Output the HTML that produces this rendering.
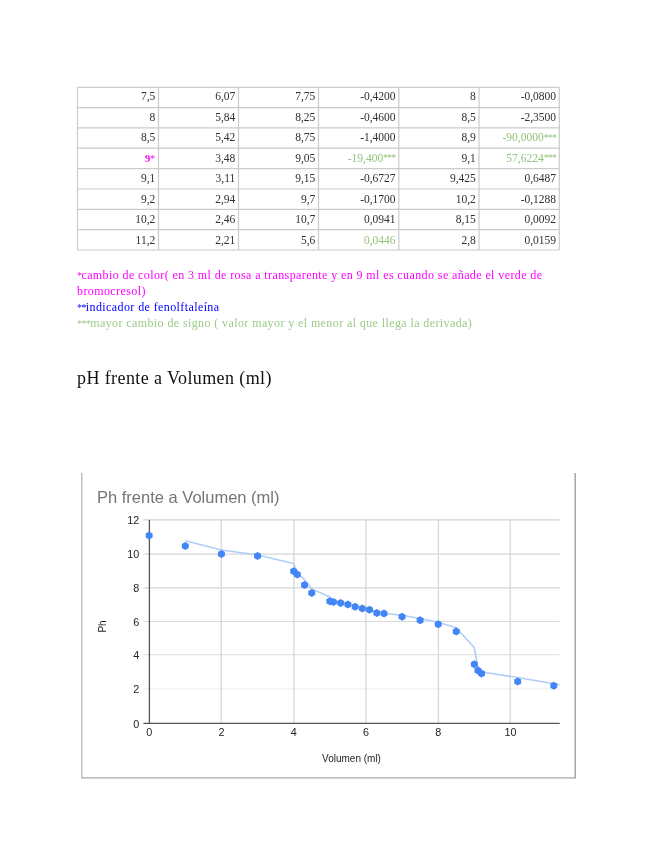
<!DOCTYPE html>
<html><head><meta charset="utf-8"><style>
html,body{margin:0;padding:0;background:#fff;width:655px;height:848px;overflow:hidden;position:relative}
.c{position:absolute;font-family:"Liberation Serif",serif;font-size:11.5px;line-height:14px;white-space:nowrap}
.ast{font-size:9.5px;letter-spacing:-0.6px;position:relative;top:-0.5px}
.na{font-size:10px;letter-spacing:-0.6px}
.n{position:absolute;left:77px;font-family:"Liberation Serif",serif;font-size:12px;letter-spacing:0.4px;line-height:16px;white-space:nowrap}
.h{position:absolute;left:77px;font-family:"Liberation Serif",serif;font-size:18px;letter-spacing:0.4px;white-space:nowrap;color:#111}
.tl{font-family:"Liberation Sans",sans-serif;font-size:10.8px;fill:#1e1e1e}
.al{font-family:"Liberation Sans",sans-serif;font-size:10px;fill:#1e1e1e}
.tt{font-family:"Liberation Sans",sans-serif;font-size:16.5px;fill:#757575}
</style></head><body><div style="position:absolute;left:0;top:0;width:655px;height:848px;will-change:transform">
<svg width="655" height="848" style="position:absolute;left:0;top:0"><line x1="77.5" y1="87.4" x2="77.5" y2="250.0" stroke="#cbcbcb" stroke-width="1.2"/><line x1="158.5" y1="87.4" x2="158.5" y2="250.0" stroke="#cbcbcb" stroke-width="1.2"/><line x1="238.5" y1="87.4" x2="238.5" y2="250.0" stroke="#cbcbcb" stroke-width="1.2"/><line x1="318.5" y1="87.4" x2="318.5" y2="250.0" stroke="#cbcbcb" stroke-width="1.2"/><line x1="398.8" y1="87.4" x2="398.8" y2="250.0" stroke="#cbcbcb" stroke-width="1.2"/><line x1="479.0" y1="87.4" x2="479.0" y2="250.0" stroke="#cbcbcb" stroke-width="1.2"/><line x1="559.3" y1="87.4" x2="559.3" y2="250.0" stroke="#cbcbcb" stroke-width="1.2"/><line x1="77.5" y1="87.4" x2="559.3" y2="87.4" stroke="#cbcbcb" stroke-width="1.2"/><line x1="77.5" y1="107.6" x2="559.3" y2="107.6" stroke="#cbcbcb" stroke-width="1.2"/><line x1="77.5" y1="127.8" x2="559.3" y2="127.8" stroke="#cbcbcb" stroke-width="1.2"/><line x1="77.5" y1="148.2" x2="559.3" y2="148.2" stroke="#cbcbcb" stroke-width="1.2"/><line x1="77.5" y1="168.7" x2="559.3" y2="168.7" stroke="#cbcbcb" stroke-width="1.2"/><line x1="77.5" y1="189.0" x2="559.3" y2="189.0" stroke="#cbcbcb" stroke-width="1.2"/><line x1="77.5" y1="209.4" x2="559.3" y2="209.4" stroke="#cbcbcb" stroke-width="1.2"/><line x1="77.5" y1="229.6" x2="559.3" y2="229.6" stroke="#cbcbcb" stroke-width="1.2"/><line x1="77.5" y1="250.0" x2="559.3" y2="250.0" stroke="#cbcbcb" stroke-width="1.2"/></svg>
<div class="c" style="right:499.7px;top:89.3px;color:#303030">7,5</div>
<div class="c" style="right:419.7px;top:89.3px;color:#303030">6,07</div>
<div class="c" style="right:339.7px;top:89.3px;color:#303030">7,75</div>
<div class="c" style="right:259.4px;top:89.3px;color:#303030">-0,4200</div>
<div class="c" style="right:179.2px;top:89.3px;color:#303030">8</div>
<div class="c" style="right:98.9px;top:89.3px;color:#303030">-0,0800</div>
<div class="c" style="right:499.7px;top:109.8px;color:#303030">8</div>
<div class="c" style="right:419.7px;top:109.8px;color:#303030">5,84</div>
<div class="c" style="right:339.7px;top:109.8px;color:#303030">8,25</div>
<div class="c" style="right:259.4px;top:109.8px;color:#303030">-0,4600</div>
<div class="c" style="right:179.2px;top:109.8px;color:#303030">8,5</div>
<div class="c" style="right:98.9px;top:109.8px;color:#303030">-2,3500</div>
<div class="c" style="right:499.7px;top:130.2px;color:#303030">8,5</div>
<div class="c" style="right:419.7px;top:130.2px;color:#303030">5,42</div>
<div class="c" style="right:339.7px;top:130.2px;color:#303030">8,75</div>
<div class="c" style="right:259.4px;top:130.2px;color:#303030">-1,4000</div>
<div class="c" style="right:179.2px;top:130.2px;color:#303030">8,9</div>
<div class="c" style="right:98.9px;top:130.2px;color:#93c47d">-90,0000<span class="ast">***</span></div>
<div class="c" style="right:499.7px;top:150.7px;color:#ff00ff"><b style='font-size:10.5px'>9</b><span style='font-size:10px'>*</span></div>
<div class="c" style="right:419.7px;top:150.7px;color:#303030">3,48</div>
<div class="c" style="right:339.7px;top:150.7px;color:#303030">9,05</div>
<div class="c" style="right:259.4px;top:150.7px;color:#93c47d">-19,400<span class="ast">***</span></div>
<div class="c" style="right:179.2px;top:150.7px;color:#303030">9,1</div>
<div class="c" style="right:98.9px;top:150.7px;color:#93c47d">57,6224<span class="ast">***</span></div>
<div class="c" style="right:499.7px;top:171.2px;color:#303030">9,1</div>
<div class="c" style="right:419.7px;top:171.2px;color:#303030">3,11</div>
<div class="c" style="right:339.7px;top:171.2px;color:#303030">9,15</div>
<div class="c" style="right:259.4px;top:171.2px;color:#303030">-0,6727</div>
<div class="c" style="right:179.2px;top:171.2px;color:#303030">9,425</div>
<div class="c" style="right:98.9px;top:171.2px;color:#303030">0,6487</div>
<div class="c" style="right:499.7px;top:191.7px;color:#303030">9,2</div>
<div class="c" style="right:419.7px;top:191.7px;color:#303030">2,94</div>
<div class="c" style="right:339.7px;top:191.7px;color:#303030">9,7</div>
<div class="c" style="right:259.4px;top:191.7px;color:#303030">-0,1700</div>
<div class="c" style="right:179.2px;top:191.7px;color:#303030">10,2</div>
<div class="c" style="right:98.9px;top:191.7px;color:#303030">-0,1288</div>
<div class="c" style="right:499.7px;top:212.1px;color:#303030">10,2</div>
<div class="c" style="right:419.7px;top:212.1px;color:#303030">2,46</div>
<div class="c" style="right:339.7px;top:212.1px;color:#303030">10,7</div>
<div class="c" style="right:259.4px;top:212.1px;color:#303030">0,0941</div>
<div class="c" style="right:179.2px;top:212.1px;color:#303030">8,15</div>
<div class="c" style="right:98.9px;top:212.1px;color:#303030">0,0092</div>
<div class="c" style="right:499.7px;top:232.6px;color:#303030">11,2</div>
<div class="c" style="right:419.7px;top:232.6px;color:#303030">2,21</div>
<div class="c" style="right:339.7px;top:232.6px;color:#303030">5,6</div>
<div class="c" style="right:259.4px;top:232.6px;color:#93c47d">0,0446</div>
<div class="c" style="right:179.2px;top:232.6px;color:#303030">2,8</div>
<div class="c" style="right:98.9px;top:232.6px;color:#303030">0,0159</div>
<div class="n" style="top:267px;color:#ff00ff"><span class="na">*</span>cambio de color( en 3 ml de rosa a transparente y en 9 ml es cuando se añade el verde de</div>
<div class="n" style="top:283px;color:#ff00ff">bromocresol)</div>
<div class="n" style="top:299px;color:#0000ff"><span class="na">**</span>indicador de fenolftaleína</div>
<div class="n" style="top:315px;color:#9ccb87"><span class="na">***</span>mayor cambio de signo ( valor mayor y el menor al que llega la derivada)</div>
<div class="h" style="top:367.5px">pH frente a Volumen (ml)</div>
<svg width="655" height="848" style="position:absolute;left:0;top:0">
<line x1="81.8" y1="473" x2="81.8" y2="777.5" stroke="#bdbdbd" stroke-width="1.4"/>
<line x1="575.2" y1="473" x2="575.2" y2="778.2" stroke="#9e9e9e" stroke-width="1.4"/>
<line x1="81.1" y1="777.9" x2="575.9" y2="777.9" stroke="#a8a8a8" stroke-width="1.4"/>
<line x1="143.4" y1="688.90" x2="559.7" y2="688.90" stroke="#f2f2f2" stroke-width="1.2"/>
<line x1="143.4" y1="654.70" x2="559.7" y2="654.70" stroke="#e4e4e4" stroke-width="1.2"/>
<line x1="143.4" y1="621.50" x2="559.7" y2="621.50" stroke="#dadada" stroke-width="1.2"/>
<line x1="143.4" y1="587.80" x2="559.7" y2="587.80" stroke="#d6d6d6" stroke-width="1.2"/>
<line x1="143.4" y1="554.20" x2="559.7" y2="554.20" stroke="#d6d6d6" stroke-width="1.2"/>
<line x1="143.4" y1="519.80" x2="559.7" y2="519.80" stroke="#d2d2d2" stroke-width="1.2"/>
<line x1="221.20" y1="519.8" x2="221.20" y2="723.30" stroke="#d6d6d6" stroke-width="1.2"/>
<line x1="293.90" y1="519.8" x2="293.90" y2="723.30" stroke="#d6d6d6" stroke-width="1.2"/>
<line x1="365.90" y1="519.8" x2="365.90" y2="723.30" stroke="#d6d6d6" stroke-width="1.2"/>
<line x1="438.40" y1="519.8" x2="438.40" y2="723.30" stroke="#d6d6d6" stroke-width="1.2"/>
<line x1="510.20" y1="519.8" x2="510.20" y2="723.30" stroke="#d6d6d6" stroke-width="1.2"/>
<line x1="149.4" y1="519.8" x2="149.4" y2="723.3" stroke="#555" stroke-width="1.3"/>
<line x1="143.4" y1="723.3" x2="559.7" y2="723.3" stroke="#555" stroke-width="1.3"/>
<polyline points="185.28,540.81 221.41,550.05 257.54,554.97 293.67,563.54 297.28,572.78 304.51,579.65 311.74,588.89 329.80,597.03 333.41,601.61 340.64,602.54 347.87,603.82 355.09,605.68 362.32,607.63 369.54,609.16 376.77,611.45 384.00,613.31 402.06,615.18 420.12,618.57 438.19,622.30 456.25,627.82 474.32,647.83 477.93,667.42 481.55,672.00 517.68,677.51 553.81,683.70 559.5,684.72" fill="none" stroke="#b0cdf9" stroke-width="1.6" stroke-linejoin="round"/>
<polygon points="149.15,531.55 152.61,533.55 152.61,537.55 149.15,539.55 145.69,537.55 145.69,533.55" fill="#4285f4"/>
<polygon points="185.28,542.07 188.74,544.07 188.74,548.07 185.28,550.07 181.82,548.07 181.82,544.07" fill="#4285f4"/>
<polygon points="221.41,550.04 224.87,552.04 224.87,556.04 221.41,558.04 217.95,556.04 217.95,552.04" fill="#4285f4"/>
<polygon points="257.54,551.90 261.00,553.90 261.00,557.90 257.54,559.90 254.08,557.90 254.08,553.90" fill="#4285f4"/>
<polygon points="293.67,567.17 297.13,569.17 297.13,573.17 293.67,575.17 290.21,573.17 290.21,569.17" fill="#4285f4"/>
<polygon points="297.28,570.39 300.75,572.39 300.75,576.39 297.28,578.39 293.82,576.39 293.82,572.39" fill="#4285f4"/>
<polygon points="304.51,580.91 307.97,582.91 307.97,586.91 304.51,588.91 301.04,586.91 301.04,582.91" fill="#4285f4"/>
<polygon points="311.74,588.88 315.20,590.88 315.20,594.88 311.74,596.88 308.27,594.88 308.27,590.88" fill="#4285f4"/>
<polygon points="329.80,597.19 333.26,599.19 333.26,603.19 329.80,605.19 326.34,603.19 326.34,599.19" fill="#4285f4"/>
<polygon points="333.41,598.04 336.88,600.04 336.88,604.04 333.41,606.04 329.95,604.04 329.95,600.04" fill="#4285f4"/>
<polygon points="340.64,599.05 344.10,601.05 344.10,605.05 340.64,607.05 337.17,605.05 337.17,601.05" fill="#4285f4"/>
<polygon points="347.87,600.58 351.33,602.58 351.33,606.58 347.87,608.58 344.40,606.58 344.40,602.58" fill="#4285f4"/>
<polygon points="355.09,602.78 358.56,604.78 358.56,608.78 355.09,610.78 351.63,608.78 351.63,604.78" fill="#4285f4"/>
<polygon points="362.32,604.48 365.78,606.48 365.78,610.48 362.32,612.48 358.85,610.48 358.85,606.48" fill="#4285f4"/>
<polygon points="369.54,605.84 373.01,607.84 373.01,611.84 369.54,613.84 366.08,611.84 366.08,607.84" fill="#4285f4"/>
<polygon points="376.77,609.06 380.23,611.06 380.23,615.06 376.77,617.06 373.30,615.06 373.30,611.06" fill="#4285f4"/>
<polygon points="384.00,609.57 387.46,611.57 387.46,615.57 384.00,617.57 380.53,615.57 380.53,611.57" fill="#4285f4"/>
<polygon points="402.06,612.79 405.52,614.79 405.52,618.79 402.06,620.79 398.60,618.79 398.60,614.79" fill="#4285f4"/>
<polygon points="420.12,616.35 423.59,618.35 423.59,622.35 420.12,624.35 416.66,622.35 416.66,618.35" fill="#4285f4"/>
<polygon points="438.19,620.25 441.65,622.25 441.65,626.25 438.19,628.25 434.73,626.25 434.73,622.25" fill="#4285f4"/>
<polygon points="456.25,627.38 459.72,629.38 459.72,633.38 456.25,635.38 452.79,633.38 452.79,629.38" fill="#4285f4"/>
<polygon points="474.32,660.28 477.78,662.28 477.78,666.28 474.32,668.28 470.86,666.28 470.86,662.28" fill="#4285f4"/>
<polygon points="477.93,666.55 481.40,668.55 481.40,672.55 477.93,674.55 474.47,672.55 474.47,668.55" fill="#4285f4"/>
<polygon points="481.55,669.44 485.01,671.44 485.01,675.44 481.55,677.44 478.08,675.44 478.08,671.44" fill="#4285f4"/>
<polygon points="517.68,677.58 521.14,679.58 521.14,683.58 517.68,685.58 514.21,683.58 514.21,679.58" fill="#4285f4"/>
<polygon points="553.81,681.82 557.27,683.82 557.27,687.82 553.81,689.82 550.34,687.82 550.34,683.82" fill="#4285f4"/>
<text x="139.2" y="727.50" text-anchor="end" class="tl">0</text>
<text x="139.2" y="693.10" text-anchor="end" class="tl">2</text>
<text x="139.2" y="658.90" text-anchor="end" class="tl">4</text>
<text x="139.2" y="625.70" text-anchor="end" class="tl">6</text>
<text x="139.2" y="592.00" text-anchor="end" class="tl">8</text>
<text x="139.2" y="558.40" text-anchor="end" class="tl">10</text>
<text x="139.2" y="524.00" text-anchor="end" class="tl">12</text>
<text x="149.15" y="736" text-anchor="middle" class="tl">0</text>
<text x="221.41" y="736" text-anchor="middle" class="tl">2</text>
<text x="293.67" y="736" text-anchor="middle" class="tl">4</text>
<text x="365.93" y="736" text-anchor="middle" class="tl">6</text>
<text x="438.19" y="736" text-anchor="middle" class="tl">8</text>
<text x="510.45" y="736" text-anchor="middle" class="tl">10</text>
<text x="351.5" y="761.8" text-anchor="middle" class="al">Volumen (ml)</text>
<text transform="translate(106.2,626.5) rotate(-90)" text-anchor="middle" class="al">Ph</text>
<text x="97" y="503" class="tt">Ph frente a Volumen (ml)</text>
</svg>
</div></body></html>
